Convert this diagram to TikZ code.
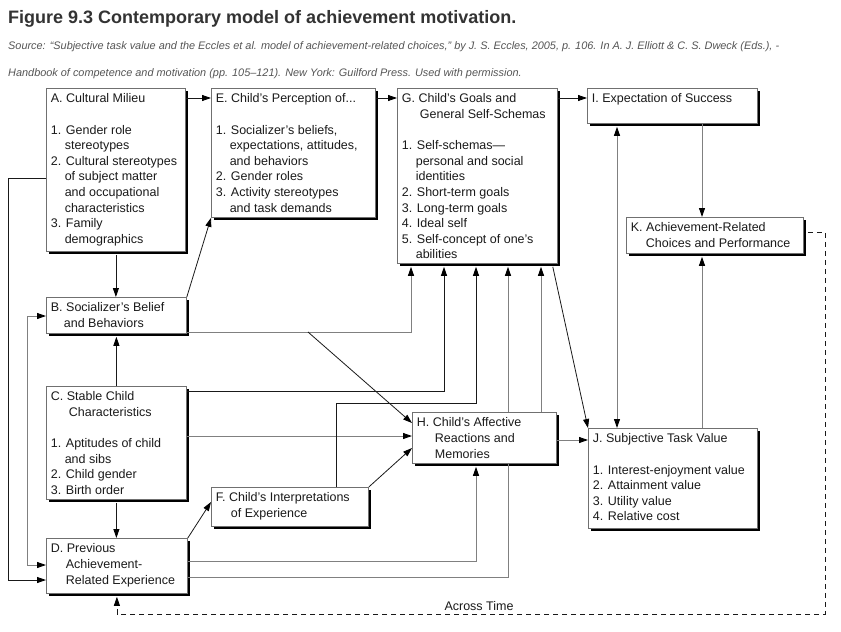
\documentclass[tikz,border=0pt]{standalone}
\usepackage{fontspec}
\setmainfont{Liberation Sans}
\usetikzlibrary{arrows.meta,shadows,calc}
\definecolor{txt}{HTML}{1A1A1A}
\definecolor{ttl}{HTML}{333333}
\definecolor{src}{HTML}{555555}
\definecolor{bord}{HTML}{707070}
\definecolor{gl}{HTML}{808080}
\newcommand\hi{\hphantom{1.\ }}
\newcommand\bxt[3]{\begin{minipage}[c][#2pt][t]{#1pt}\raggedright\leftskip=4.5pt\relax\parindent=0pt\vspace*{3.5pt}\strut #3\par\end{minipage}}
\tikzset{
  box/.style={draw=bord, line width=0.8pt, fill=white, inner sep=0pt, anchor=north west,
    text=txt, font=\fontsize{12.5}{15.6}\selectfont,
    drop shadow={shadow xshift=3pt, shadow yshift=-3pt, fill=black, opacity=1}},
  bl/.style={draw=black!90, line width=0.8pt},
  gy/.style={draw=gl, line width=0.9pt},
  dsh/.style={draw=black!90, line width=0.8pt, dash pattern=on 5pt off 4pt},
}
\begin{document}
\begin{tikzpicture}[x=1pt,y=-1pt,>={Triangle[length=9pt,width=6pt,color=black]}]
\fill[white] (0,0) rectangle (841,632);
\useasboundingbox (0,0) rectangle (841,632);

% title and source
\node[anchor=base west, inner sep=0pt, font=\fontsize{18}{22}\selectfont\bfseries, text=ttl] (title) at (8,23) {Figure 9.3 Contemporary model of achievement motivation.};
\node[anchor=base west, inner sep=0pt, font=\fontsize{10.9}{13}\selectfont\itshape, text=src] (src1) at (8,49) {Source: “Subjective task value and the Eccles et al. model of achievement-related choices,” by J. S. Eccles, 2005, p. 106. In A. J. Elliott \& C. S. Dweck (Eds.), -};
\node[anchor=base west, inner sep=0pt, font=\fontsize{10.9}{13}\selectfont\itshape, text=src] (src2) at (8,76) {Handbook of competence and motivation (pp. 105–121). New York: Guilford Press. Used with permission.};

% boxes
\node[box] (A) at (46,88) {\bxt{139}{163}{A. Cultural Milieu\\ \strut\\ 1. Gender role\\ \hi stereotypes\\ 2. Cultural stereotypes\\ \hi of subject matter\\ \hi and occupational\\ \hi characteristics\\ 3. Family\\ \hi demographics}};
\node[box] (E) at (211,88) {\bxt{164}{129}{E. Child’s Perception of...\\ \strut\\ 1. Socializer’s beliefs,\\ \hi expectations, attitudes,\\ \hi and behaviors\\ 2. Gender roles\\ 3. Activity stereotypes\\ \hi and task demands}};
\node[box] (G) at (397,88) {\bxt{160}{175}{G. Child’s Goals and\\ \hspace*{18pt}General Self-Schemas\\ \strut\\ 1. Self-schemas—\\ \hi personal and social\\ \hi identities\\ 2. Short-term goals\\ 3. Long-term goals\\ 4. Ideal self\\ 5. Self-concept of one’s\\ \hi abilities}};
\node[box] (I) at (587,88) {\bxt{170}{35}{I. Expectation of Success}};
\node[box] (K) at (626,217) {\bxt{177}{36}{K. Achievement-Related\\ \hspace*{15pt}Choices and Performance}};
\node[box] (B) at (46,297) {\bxt{140}{36}{B. Socializer’s Belief\\ \hspace*{13pt}and Behaviors}};
\node[box] (C) at (46,386) {\bxt{140}{113}{C. Stable Child\\ \hspace*{18pt}Characteristics\\ \strut\\ 1. Aptitudes of child\\ \hi and sibs\\ 2. Child gender\\ 3. Birth order}};
\node[box] (H) at (412,412) {\bxt{144}{51}{H. Child’s Affective\\ \hspace*{18pt}Reactions and\\ \hspace*{18pt}Memories}};
\node[box] (J) at (588,428) {\bxt{169}{100}{J. Subjective Task Value\\ \strut\\ 1. Interest-enjoyment value\\ 2. Attainment value\\ 3. Utility value\\ 4. Relative cost}};
\node[box] (F) at (211,487) {\bxt{157}{39}{F. Child’s Interpretations\\ \hspace*{15pt}of Experience}};
\node[box] (D) at (46,538) {\bxt{141}{55}{D. Previous\\ \hspace*{15pt}Achievement-\\ \hspace*{15pt}Related Experience}};

% shadow-bottom coordinates
\coordinate (As) at ([yshift=-3pt]A.south);
\coordinate (Bs) at ([yshift=-3pt]B.south);
\coordinate (Cs) at ([yshift=-3pt]C.south);
\coordinate (Ds) at ([yshift=-3pt]D.south);
\coordinate (Gs) at ([yshift=-3pt]G.south);
\coordinate (Hs) at ([yshift=-3pt]H.south);
\coordinate (Is) at ([yshift=-3pt]I.south);
\coordinate (Ks) at ([yshift=-3pt]K.south);
\coordinate (g1) at ($(G.south east)+(-5,3)$);
\coordinate (b1) at (308,332);
\coordinate (k1) at ($(K.east |- 0,232)+(4,0)$);

% connectors
\draw[bl,->] ([yshift=-10pt]A.north east) -- ([yshift=-10pt]E.north west);
\draw[bl,->] ([yshift=-10pt]E.north east) -- ([yshift=-10pt]G.north west);
\draw[bl,->] ([yshift=-10pt]G.north east) -- ([yshift=-10pt]I.north west);
\draw[gy,->] (I.south -| 702,0) -- (K.north -| 702,0);
\draw[gy,->] (J.north -| 702,0) -- (Ks -| 702,0);
\draw[gy,<->] (Is -| 617,0) -- (J.north -| 617,0);
\draw[bl,->] (g1) -- (J.north west);
\draw[gy,->] (H.east |- 0,440) -- (J.west |- 0,440);

\draw[bl,->] (As) -- (As |- B.north);
\draw[bl,->] (B.north east) -- (E.south west);
\draw[gy,->] (B.east |- 0,332) -| (Gs -| 411,0);
\draw[bl,->] (b1) -- ([yshift=-11pt]H.north west);
\draw[bl,->] (C.east |- 0,391) -| (Gs -| 444,0);
\draw[gy,->] (C.east |- 0,436) -- (H.west |- 0,436);
\draw[bl,->] (F.north -| 336,0) |- (476,403) -- (Gs -| 476,0);
\draw[gy,->] (H.north -| 508,0) -- (Gs -| 508,0);
\draw[gy,->] (H.north -| 541,0) -- (Gs -| 541,0);
\draw[bl,->] (F.north east) -- ([yshift=-36pt]H.north west);
\draw[bl,->] (D.north east) -- ([yshift=-15pt]F.north west);
\draw[gy,->] (D.east |- 0,561) -| (Hs -| 476,0);
\draw[gy] (D.east |- 0,577) -| (H.south -| 508,0);
\draw[bl,->] (C.north) -- (Bs);
\draw[bl,->] (Cs) -- (Cs |- D.north);
\draw[bl,->] (A.west |- 0,178) -| (8,580) -- (D.west |- 0,580);
\draw[gy,<->] (B.west |- 0,316) -| (27,565) -- (D.west |- 0,565);

% across time
\draw[dsh,->] (k1) -- (825,232) -- (825,614) -- (Ds |- 0,614) -- (Ds);
\node[inner sep=0pt, font=\fontsize{12.5}{15}\selectfont, text=txt] (across) at (479,606) {Across Time};
\end{tikzpicture}
\end{document}
